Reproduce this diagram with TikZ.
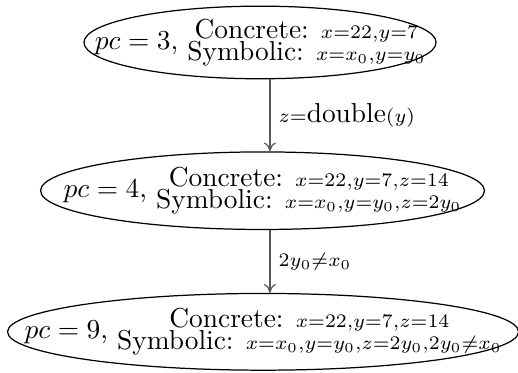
\documentclass[tikz,border=0pt]{standalone}
\usetikzlibrary{shapes.geometric,arrows.meta}
\newcommand\twoline[2]{$\vcenter{\baselineskip=8pt\lineskiplimit=-100pt\lineskip=0pt\halign{\hfil##\hfil\cr#1\cr#2\cr}}$}
\tikzset{
  state/.style={ellipse, draw=black, line width=0.45pt, inner sep=0pt},
  flow/.style={-{To[length=3.2pt,width=4.4pt]}, draw=black!65, line width=0.45pt},
  flowlabel/.style={right, inner sep=3pt, text=black}
}
\begin{document}
\begin{tikzpicture}[x=1pt,y=1pt]
\useasboundingbox (0,0) rectangle (189.05,-135.77);
\node[state, minimum width=128.5pt, minimum height=26.5pt] (s1) at (94.9,-15.5)
  {\makebox[0pt]{$pc=3$, \twoline{Concrete: $\scriptstyle x=22,y=7$}{Symbolic: $\scriptstyle x=x_0,y=y_0$}}};
\node[state, minimum width=162pt, minimum height=28.3pt] (s2) at (95.8,-69.6)
  {\makebox[0pt]{$pc=4$, \twoline{Concrete: $\scriptstyle x=22,y=7,z=14$}{Symbolic: $\scriptstyle x=x_0,y=y_0,z=2y_0$}}};
\node[state, minimum width=186.5pt, minimum height=28pt] (s3) at (96.0,-121.1)
  {\makebox[0pt]{$pc=9$, \twoline{Concrete: $\scriptstyle x=22,y=7,z=14$}{Symbolic: $\scriptstyle x=x_0,y=y_0,z=2y_0,2y_0\neq x_0$}}};
\coordinate (ax) at (98.5,0);
\draw[flow] (s1.south -| ax) -- node[flowlabel] {$\scriptstyle z=$double$\scriptstyle (y)$} (s2.north -| ax);
\draw[flow] (s2.south -| ax) -- node[flowlabel] {$\scriptstyle 2y_0\neq x_0$} (s3.north -| ax);
\end{tikzpicture}
\end{document}
